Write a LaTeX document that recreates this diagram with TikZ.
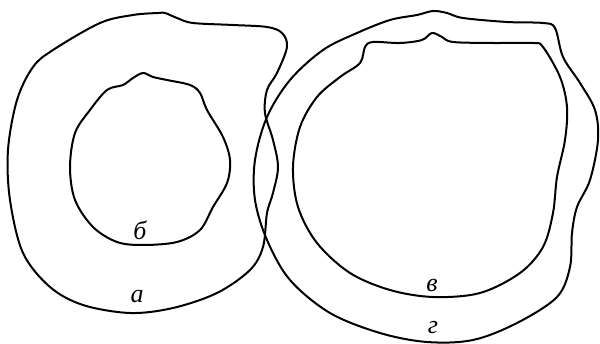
\documentclass[tikz,border=0pt]{standalone}
\usepackage{fontspec}
\newfontfamily\cyrfont{Liberation Serif}
\usetikzlibrary{positioning}

\tikzset{
  contour/.style={draw=black, line width=2pt, line join=round},
  lbl/.style={font=\cyrfont\itshape\fontsize{26}{28}\selectfont, inner sep=0pt}
}

\begin{document}
\begin{tikzpicture}[x=1pt,y=-1pt]
      \useasboundingbox (0,0) rectangle (600,344);

      % Outer contour a
      \draw[contour] plot[smooth cycle, tension=0.55] coordinates {
        (158,13) (133,15) (100,23) (53,50) (33,67) (17,100) (8,150) (10,200)
        (23,253) (50,287) (83,305) (130,313) (173,308) (217,293) (250,270)
        (263,247) (267,213) (273,193) (278,167) (273,140) (265,113) (267,90)
        (277,73) (287,47) (282,33) (267,27) (233,25) (193,23) (177,18) (165,13)};

      % Inner contour b
      \draw[contour] plot[smooth cycle, tension=0.55] coordinates {
        (143,73) (133,78) (123,85) (107,90) (90,110) (75,133) (70,167) (75,200)
        (93,227) (117,242) (143,245) (177,242) (200,230) (213,207) (227,183)
        (230,160) (223,137) (207,110) (200,93) (190,85) (167,80) (153,77)};

      % Inner contour v
      \draw[contour] plot[smooth cycle, tension=0.55] coordinates {
        (432,33) (422,40) (400,43) (373,42) (365,47) (360,63) (340,77) (317,97)
        (300,127) (293,167) (298,207) (317,243) (350,273) (390,290) (433,297)
        (480,293) (520,273) (543,247) (553,213) (557,177) (565,140) (567,107)
        (560,77) (543,47) (533,43) (493,43) (453,42) (442,37)};

      % Outer contour g
      \draw[contour] plot[smooth cycle, tension=0.55] coordinates {
        (433,11) (417,15) (390,20) (357,33) (323,50) (290,80) (267,117) (255,160)
        (255,200) (267,240) (290,280) (330,313) (380,333) (427,342) (473,340)
        (517,323) (557,297) (570,267) (572,233) (577,207) (590,180) (598,140)
        (595,110) (580,83) (563,57) (555,28) (543,23) (507,22) (463,18) (447,13)};

      % Labels
      \node[lbl] (la) at (137,297) {а};
      \node[lbl] (lb) at (140,230) {б};
      \node[lbl] (lv) at (432,285) {в};
      \node[lbl] (lg) at (433,328) {г};
\end{tikzpicture}
\end{document}
